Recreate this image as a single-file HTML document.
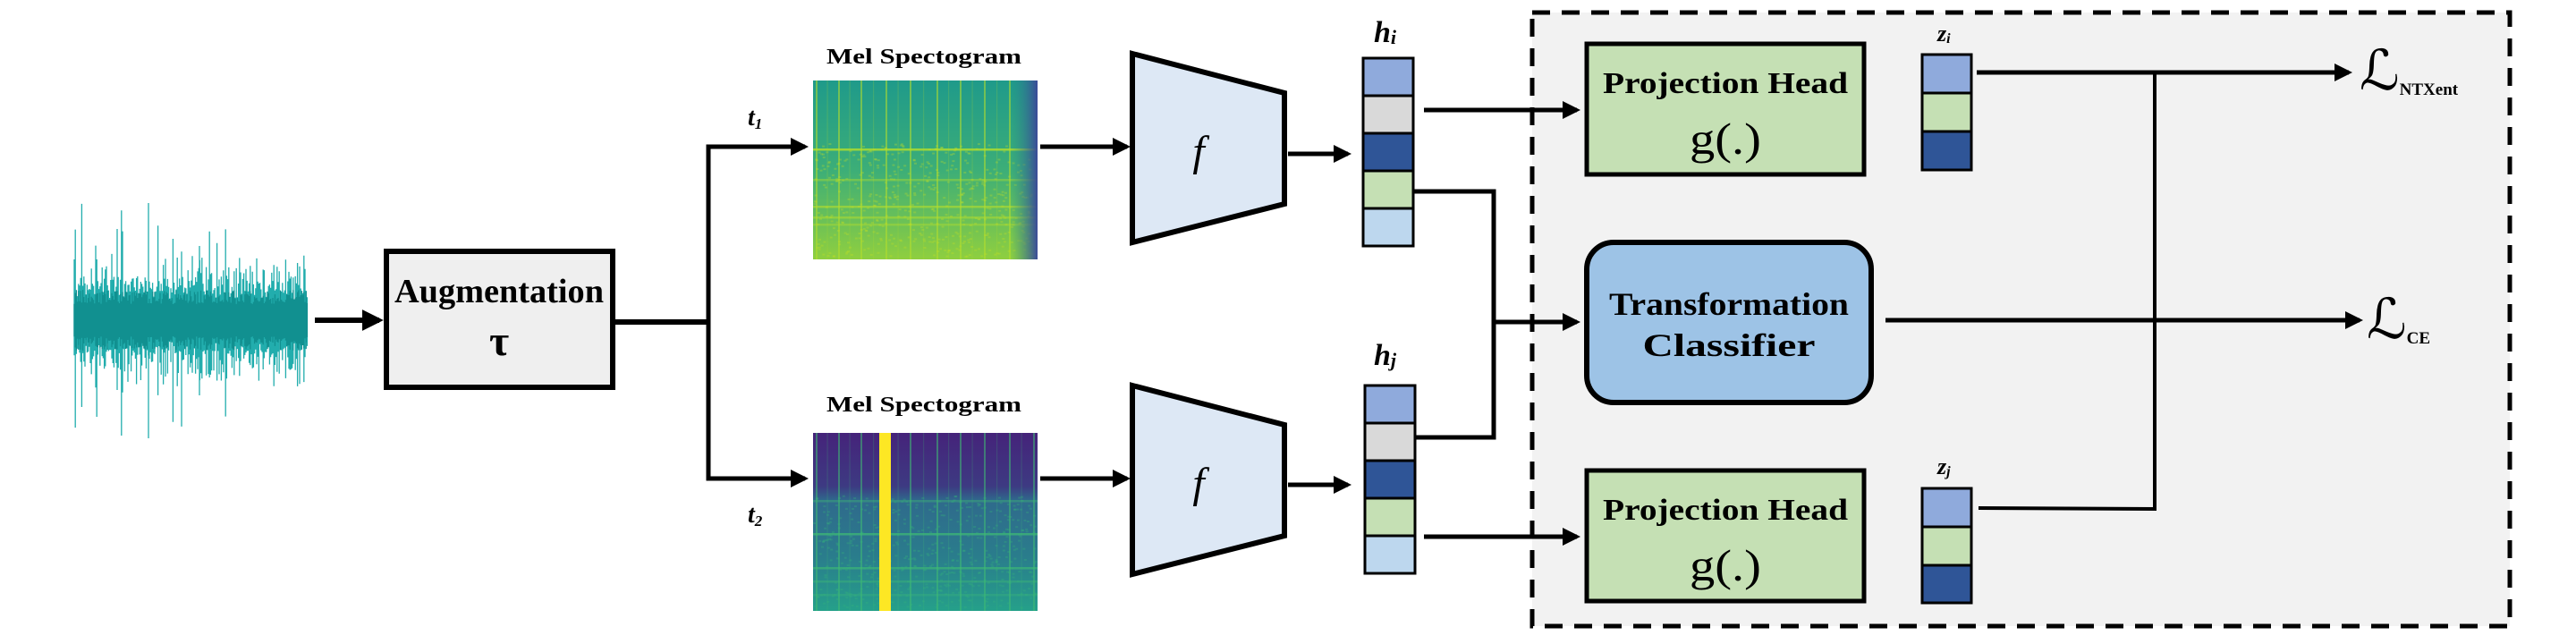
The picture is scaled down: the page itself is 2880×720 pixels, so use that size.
<!DOCTYPE html>
<html><head><meta charset="utf-8"><style>
html,body{margin:0;padding:0;background:#fff}
svg{display:block}
text{font-family:"Liberation Serif","Times New Roman",Times,serif;fill:#000}
</style></head><body>
<svg id="s" width="2880" height="720" viewBox="0 0 2880 720" xmlns="http://www.w3.org/2000/svg">
<defs>
<marker id="ah" markerWidth="4" markerHeight="4" refX="3.2" refY="2" orient="auto" markerUnits="strokeWidth"><path d="M0,0 L4,2 L0,4 z" fill="#000"/></marker>
<linearGradient id="g1" x1="0" y1="0" x2="0" y2="1">
<stop offset="0" stop-color="#1f9a8a"/><stop offset="0.5" stop-color="#3cae78"/><stop offset="1" stop-color="#8fcf3f"/></linearGradient>
<linearGradient id="g1r" x1="0" y1="0" x2="1" y2="0">
<stop offset="0" stop-color="#2a8c8c" stop-opacity="0"/><stop offset="1" stop-color="#3b4a98"/></linearGradient>
<linearGradient id="g2" x1="0" y1="0" x2="0" y2="1">
<stop offset="0" stop-color="#45237a"/><stop offset="0.3" stop-color="#3d3a82"/><stop offset="0.38" stop-color="#2f6a8c"/><stop offset="0.7" stop-color="#2a7d8c"/><stop offset="1" stop-color="#25a08a"/></linearGradient>
</defs>

<rect x="1713" y="14" width="1093" height="686" fill="#f2f2f2" stroke="#000" stroke-width="5" stroke-dasharray="20,13"/>

<g id="wave"></g>

<line x1="352" y1="358" x2="424" y2="358" stroke="#000" stroke-width="6" marker-end="url(#ah)"/>

<rect x="432" y="281" width="253" height="152" fill="#efefef" stroke="#000" stroke-width="6"/>
<text x="558" y="338" font-size="38" font-weight="bold" text-anchor="middle" textLength="234" lengthAdjust="spacingAndGlyphs">Augmentation</text>
<text x="558" y="397" font-size="48" font-weight="bold" text-anchor="middle">τ</text>

<polyline points="687,360 792,360" fill="none" stroke="#000" stroke-width="6"/>
<polyline points="900,164 792,164 792,535 900,535" fill="none" stroke="#000" stroke-width="5"/>
<line x1="792" y1="164" x2="900" y2="164" stroke="#000" stroke-width="5" marker-end="url(#ah)"/>
<line x1="792" y1="535" x2="900" y2="535" stroke="#000" stroke-width="5" marker-end="url(#ah)"/>
<text x="836" y="140" font-size="28" font-weight="bold" font-style="italic">t<tspan font-size="17" dy="4">1</tspan></text>
<text x="836" y="584" font-size="28" font-weight="bold" font-style="italic">t<tspan font-size="17" dy="4">2</tspan></text>

<text x="1033" y="71" font-size="24" font-weight="bold" text-anchor="middle" textLength="218" lengthAdjust="spacingAndGlyphs">Mel Spectogram</text>
<text x="1033" y="460" font-size="24" font-weight="bold" text-anchor="middle" textLength="218" lengthAdjust="spacingAndGlyphs">Mel Spectogram</text>
<rect x="909" y="90" width="251" height="200" fill="url(#g1)"/>
<g id="sp1"></g>
<rect x="1130" y="90" width="30" height="200" fill="url(#g1r)"/>
<rect x="909" y="484" width="251" height="199" fill="url(#g2)"/>
<g id="sp2"></g>
<rect x="983" y="484" width="13" height="199" fill="#fde724"/>

<line x1="1163" y1="164" x2="1260" y2="164" stroke="#000" stroke-width="5" marker-end="url(#ah)"/>
<line x1="1163" y1="535" x2="1260" y2="535" stroke="#000" stroke-width="5" marker-end="url(#ah)"/>

<polygon points="1266,60 1436,104 1436,228 1266,271" fill="#dde8f5" stroke="#000" stroke-width="6"/>
<polygon points="1266,431 1436,475 1436,599 1266,642" fill="#dde8f5" stroke="#000" stroke-width="6"/>
<text x="1340" y="185" font-size="48" font-style="italic" text-anchor="middle">f</text>
<text x="1340" y="556" font-size="48" font-style="italic" text-anchor="middle">f</text>

<line x1="1440" y1="172" x2="1507" y2="172" stroke="#000" stroke-width="5" marker-end="url(#ah)"/>
<line x1="1440" y1="542" x2="1507" y2="542" stroke="#000" stroke-width="5" marker-end="url(#ah)"/>

<g stroke="#000" stroke-width="3">
<rect x="1524" y="65" width="56" height="42" fill="#8faadc"/>
<rect x="1524" y="107" width="56" height="42" fill="#d9d9d9"/>
<rect x="1524" y="149" width="56" height="42" fill="#2f5597"/>
<rect x="1524" y="191" width="56" height="42" fill="#c5e0b4"/>
<rect x="1524" y="233" width="56" height="42" fill="#bdd7ee"/>
<rect x="1526" y="431" width="56" height="42" fill="#8faadc"/>
<rect x="1526" y="473" width="56" height="42" fill="#d9d9d9"/>
<rect x="1526" y="515" width="56" height="42" fill="#2f5597"/>
<rect x="1526" y="557" width="56" height="42" fill="#c5e0b4"/>
<rect x="1526" y="599" width="56" height="42" fill="#bdd7ee"/>
</g>
<text x="1536" y="47" font-size="34" font-weight="bold" font-style="italic">h<tspan font-size="22" dy="2">i</tspan></text>
<text x="1536" y="408" font-size="34" font-weight="bold" font-style="italic">h<tspan font-size="22" dy="2">j</tspan></text>

<line x1="1592" y1="123" x2="1763" y2="123" stroke="#000" stroke-width="5" marker-end="url(#ah)"/>
<line x1="1592" y1="600" x2="1763" y2="600" stroke="#000" stroke-width="5" marker-end="url(#ah)"/>
<polyline points="1580,214 1670,214 1670,489 1582,489" fill="none" stroke="#000" stroke-width="5"/>
<line x1="1670" y1="360" x2="1763" y2="360" stroke="#000" stroke-width="5" marker-end="url(#ah)"/>

<rect x="1774" y="49" width="310" height="146" fill="#c5e0b4" stroke="#000" stroke-width="5"/>
<text x="1929" y="104" font-size="34" font-weight="bold" text-anchor="middle" textLength="274" lengthAdjust="spacingAndGlyphs">Projection Head</text>
<text x="1929" y="172" font-size="50" text-anchor="middle" textLength="80" lengthAdjust="spacingAndGlyphs">g(.)</text>
<rect x="1774" y="526" width="310" height="146" fill="#c5e0b4" stroke="#000" stroke-width="5"/>
<text x="1929" y="581" font-size="34" font-weight="bold" text-anchor="middle" textLength="274" lengthAdjust="spacingAndGlyphs">Projection Head</text>
<text x="1929" y="649" font-size="50" text-anchor="middle" textLength="80" lengthAdjust="spacingAndGlyphs">g(.)</text>

<rect x="1774" y="271" width="318" height="179" rx="30" ry="30" fill="#9dc3e6" stroke="#000" stroke-width="6"/>
<text x="1933" y="352" font-size="36" font-weight="bold" text-anchor="middle" textLength="268" lengthAdjust="spacingAndGlyphs">Transformation</text>
<text x="1933" y="398" font-size="36" font-weight="bold" text-anchor="middle" textLength="193" lengthAdjust="spacingAndGlyphs">Classifier</text>

<g stroke="#000" stroke-width="3">
<rect x="2149" y="61" width="55" height="43" fill="#8faadc"/>
<rect x="2149" y="104" width="55" height="43" fill="#c5e0b4"/>
<rect x="2149" y="147" width="55" height="43" fill="#2f5597"/>
<rect x="2149" y="546" width="55" height="43" fill="#8faadc"/>
<rect x="2149" y="589" width="55" height="43" fill="#c5e0b4"/>
<rect x="2149" y="632" width="55" height="42" fill="#2f5597"/>
</g>
<text x="2166" y="46" font-size="26" font-weight="bold" font-style="italic">z<tspan font-size="16" dy="2">i</tspan></text>
<text x="2166" y="530" font-size="26" font-weight="bold" font-style="italic">z<tspan font-size="16" dy="2">j</tspan></text>

<line x1="2210" y1="81" x2="2626" y2="81" stroke="#000" stroke-width="5" marker-end="url(#ah)"/>
<polyline points="2409,81 2409,569 2212,568" fill="none" stroke="#000" stroke-width="4"/>
<line x1="2108" y1="358" x2="2638" y2="358" stroke="#000" stroke-width="5" marker-end="url(#ah)"/>
<text x="2638" y="100" style="font-family:'DejaVu Serif',serif;font-size:62px">ℒ<tspan style="font-family:'Liberation Serif',serif;font-size:19px;font-weight:bold" dy="6">NTXent</tspan></text>
<text x="2646" y="378" style="font-family:'DejaVu Serif',serif;font-size:62px">ℒ<tspan style="font-family:'Liberation Serif',serif;font-size:19px;font-weight:bold" dy="6">CE</tspan></text>
</svg>
<script>
(function(){
var NS="http://www.w3.org/2000/svg";
var seed=12345;function r(){seed=(seed*16807)%2147483647;return seed/2147483647;}
function el(p,n,a){var e=document.createElementNS(NS,n);for(var k in a)e.setAttribute(k,a[k]);p.appendChild(e);return e;}
var w=document.getElementById('wave');
var d="",d2="";
for(var x=83;x<=344;x+=1.2){
 var env=r()<0.08?(60+r()*70):(30+r()*40);
 var up=env*(0.6+r()*0.5),dn=env*(0.6+r()*0.5);
 d+="M"+x.toFixed(1)+","+(358-up).toFixed(1)+"V"+(358+dn).toFixed(1);
 var c=18+r()*16; d2+="M"+x.toFixed(1)+","+(358-c).toFixed(1)+"V"+(358+c).toFixed(1);
}
d+="M166,227V490M131,256V436M223,275V442";
el(w,"path",{d:d,stroke:"#22adad","stroke-width":"1.3",fill:"none"});
el(w,"path",{d:d2,stroke:"#119090","stroke-width":"1.3",fill:"none"});
function spec(id,y0,h,vx,col,hy,noise){
 var g=document.getElementById(id);
 for(var i=0;i<vx.length;i++)el(g,"rect",{x:vx[i],y:y0,width:2,height:h,fill:col,opacity:0.55});
 for(var i=0;i<vx.length-1;i++)el(g,"rect",{x:(vx[i]+vx[i+1])/2,y:y0,width:1.2,height:h,fill:col,opacity:0.2});
 for(var j=0;j<hy.length;j++)el(g,"rect",{x:909,y:y0+hy[j][0],width:251,height:2.5,fill:col,opacity:hy[j][1]});
 for(var k=0;k<500;k++)el(g,"rect",{x:909+r()*248,y:y0+h*0.35+r()*h*0.63,width:3,height:2,fill:noise,opacity:0.3});
}
var v=[912,937,962,990,1017,1047,1073,1100,1128,1155];
spec("sp1",90,200,v.slice(0,9),"#b5de2b",[[76,0.8],[110,0.4],[140,0.6],[152,0.5],[160,0.4]],"#c8e020");
spec("sp2",484,199,v,"#3fbc73",[[75,0.4],[112,0.7],[150,0.6],[165,0.4],[180,0.3]],"#35b779");
})();
</script>
</body></html>
